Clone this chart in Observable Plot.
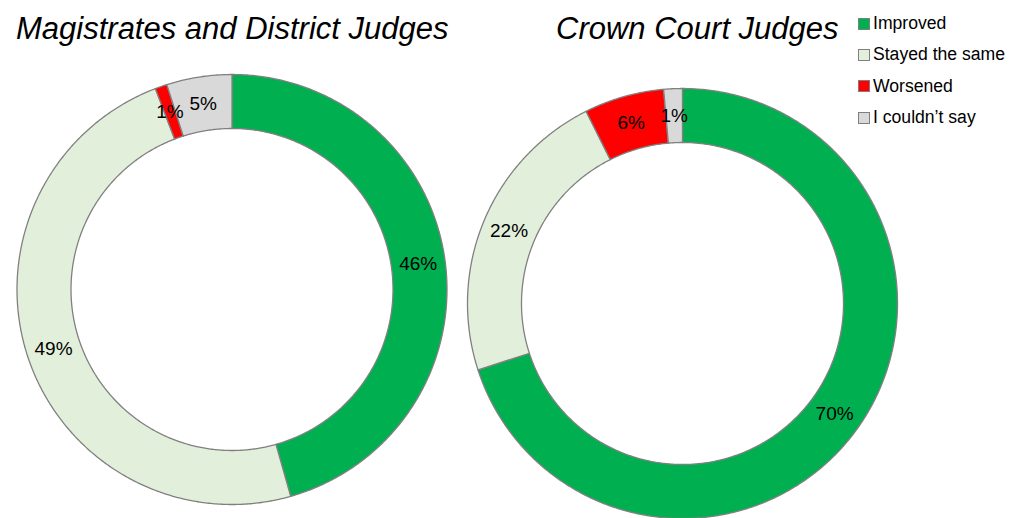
<!DOCTYPE html>
<html>
<head>
<meta charset="utf-8">
<script src="https://cdn.jsdelivr.net/npm/d3@7"></script>
<script src="https://cdn.jsdelivr.net/npm/@observablehq/plot@0.6"></script>
<style>
  html, body { margin: 0; padding: 0; background: #fff; }
  #wrap { position: relative; width: 1011px; height: 518px; overflow: hidden; font-family: 'Liberation Sans', Arial, sans-serif; }
  #chart { position: absolute; left: 0; top: 0; }
  .title { position: absolute; font-style: italic; font-size: 31px; line-height: 31px; color: #000; white-space: nowrap; }
  #legend { position: absolute; left: 858px; top: 8px; font-size: 17.6px; color: #000; }
  .row { display: flex; align-items: center; height: 31.3px; white-space: nowrap; }
  .sw { width: 10px; height: 10px; border: 1px solid #7f7f7f; margin-right: 3px; flex: none; }
</style>
</head>
<body>
<div id="wrap">
  <div id="chart"></div>
  <div id="t0" class="title"></div>
  <div id="t1" class="title"></div>
  <div id="legend"></div>
</div>
<script>
// ---- data ----
const categories = ["Improved", "Stayed the same", "Worsened", "I couldn’t say"];
const colors = ["#00B050", "#E2EFDA", "#FF0000", "#D9D9D9"];
const titles = ["Magistrates and District Judges", "Crown Court Judges"];
const magistratesValues = [45.6, 48.6, 0.9, 4.9];
const magistratesLabels = ["46%", "49%", "1%", "5%"];
const crownValues = [70.0, 22.6, 6.0, 1.4];
const crownLabels = ["70%", "22%", "6%", "1%"];

// ---- layout (units of outer radius) ----
const W = 1011, H = 518, R = 215;
const inner = 161 / 215;
const centers = [{cx: 0, cy: 0}, {cx: (682 - 231.5) / R, cy: -(303 - 289) / R}];
const xDomain = [-231.5 / R, (W - 231.5) / R];
const yDomain = [-(H - 289) / R, 289 / R];

const donuts = [
  {title: titles[0], values: magistratesValues, labels: magistratesLabels, ...centers[0]},
  {title: titles[1], values: crownValues, labels: crownLabels, ...centers[1]}
];

const arcPts = [];
const labelPts = [];
donuts.forEach((d, di) => {
  const total = d3.sum(d.values);
  let acc = 0;
  d.values.forEach((v, i) => {
    const a0 = acc / total * 2 * Math.PI;
    acc += v;
    const a1 = acc / total * 2 * Math.PI;
    const id = di + "-" + i;
    const n = Math.max(2, Math.ceil((a1 - a0) / (Math.PI / 360)));
    const pts = [];
    for (let k = 0; k <= n; k++) {
      const a = a0 + (a1 - a0) * k / n;
      pts.push([d.cx + Math.sin(a), d.cy + Math.cos(a)]);
    }
    for (let k = n; k >= 0; k--) {
      const a = a0 + (a1 - a0) * k / n;
      pts.push([d.cx + inner * Math.sin(a), d.cy + inner * Math.cos(a)]);
    }
    pts.push(pts[0]);
    pts.forEach(p => arcPts.push({id, category: categories[i], x: p[0], y: p[1]}));
    const am = (a0 + a1) / 2, rm = (1 + inner) / 2;
    labelPts.push({x: d.cx + rm * Math.sin(am), y: d.cy + rm * Math.cos(am), text: d.labels[i]});
  });
});

const chart = Plot.plot({
  width: W,
  height: H,
  margin: 0,
  x: {domain: xDomain, axis: null},
  y: {domain: yDomain, axis: null},
  color: {domain: categories, range: colors},
  style: {fontFamily: "'Liberation Sans', Arial, sans-serif", background: "#fff"},
  marks: [
    Plot.line(arcPts, {x: "x", y: "y", z: "id", fill: "category", stroke: "#808080", strokeWidth: 1.3, curve: "linear"}),
    Plot.text(labelPts, {x: "x", y: "y", text: "text", fontSize: 19, fill: "#000"})
  ]
});
document.getElementById("chart").appendChild(chart);

// titles
const t0 = document.getElementById("t0");
t0.textContent = titles[0];
t0.style.left = "16px"; t0.style.top = "13px";
const t1 = document.getElementById("t1");
t1.textContent = titles[1];
t1.style.left = "556px"; t1.style.top = "13px";

// legend
const legend = document.getElementById("legend");
categories.forEach((c, i) => {
  const row = document.createElement("div");
  row.className = "row";
  const sw = document.createElement("span");
  sw.className = "sw";
  sw.style.background = colors[i];
  const lab = document.createElement("span");
  lab.textContent = c;
  row.appendChild(sw);
  row.appendChild(lab);
  legend.appendChild(row);
});
</script>
</body>
</html>
